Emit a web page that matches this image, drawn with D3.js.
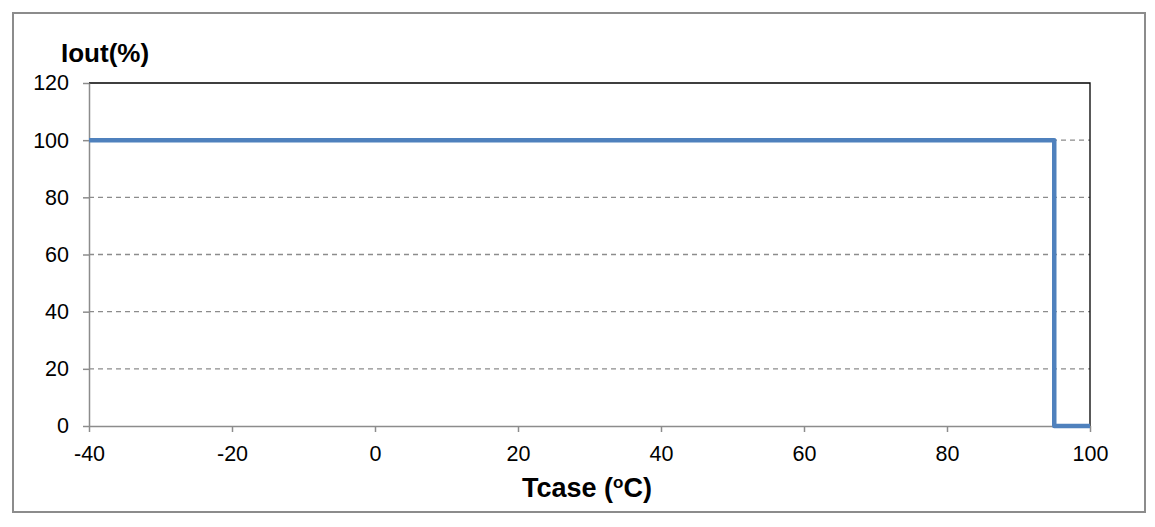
<!DOCTYPE html>
<html><head><meta charset="utf-8">
<script src="https://cdn.jsdelivr.net/npm/d3@7"></script>
<style>html,body{margin:0;padding:0;background:#fff;}</style>
</head><body>
<svg id="c" width="1155" height="527"></svg>
<script>
const xValues = [-40, 95, 95, 100];
const yValues = [100, 100, 0, 0];
const xTicks = [-40, -20, 0, 20, 40, 60, 80, 100];
const yTicks = [0, 20, 40, 60, 80, 100, 120];
const yTitle = "Iout(%)";
const xTitleMain = "Tcase (";
const xTitleSup = "o";
const xTitleEnd = "C)";

const svg = d3.select("#c");
const W = 1155, H = 527;
const m = {left: 89, right: 1090, top: 83, bottom: 426};
const x = d3.scaleLinear().domain([-40, 100]).range([m.left, m.right]);
const y = d3.scaleLinear().domain([0, 120]).range([m.bottom, m.top]);
const font = "'Liberation Sans', Arial, sans-serif";

svg.append("rect").attr("x", 0).attr("y", 0).attr("width", W).attr("height", H).attr("fill", "#fff");
svg.append("rect").attr("x", 13).attr("y", 13).attr("width", 1132).attr("height", 499)
  .attr("fill", "none").attr("stroke", "#8c8c8c").attr("stroke-width", 2);

// gridlines
svg.append("g").selectAll("line").data(yTicks.filter(t => t > 0 && t < 120)).join("line")
  .attr("x1", m.left).attr("x2", m.right)
  .attr("y1", d => y(d)).attr("y2", d => y(d))
  .attr("stroke", "#8c8c8c").attr("stroke-width", 1.3).attr("stroke-dasharray", "5,4");

// top & right border (black)
svg.append("path")
  .attr("d", `M${x(-40)},${y(120)}H${x(100)}V${y(0)}`)
  .attr("fill", "none").attr("stroke", "#000").attr("stroke-width", 1.3);

// axes
const fmt = d => String(d);
const yAxis = svg.append("g").attr("transform", `translate(${m.left},0)`)
  .call(d3.axisLeft(y).tickValues(yTicks).tickFormat(fmt).tickSize(6).tickPadding(14).tickSizeOuter(0));
const xAxis = svg.append("g").attr("transform", `translate(0,${m.bottom})`)
  .call(d3.axisBottom(x).tickValues(xTicks).tickFormat(fmt).tickSize(6).tickPadding(14).tickSizeOuter(0));
[yAxis, xAxis].forEach(a => {
  a.select(".domain").attr("stroke", "#8c8c8c").attr("stroke-width", 1.5);
  a.selectAll(".tick line").attr("stroke", "#8c8c8c").attr("stroke-width", 1.5);
  a.selectAll(".tick text").attr("fill", "#000").style("font-family", font)
    .style("font-size", "21.5px");
});

// data line
const line = d3.line().x(d => x(d[0])).y(d => y(d[1]));
svg.append("path").datum(xValues.map((v, i) => [v, yValues[i]]))
  .attr("d", line).attr("fill", "none").attr("stroke", "#4f81bd")
  .attr("stroke-width", 4.5).attr("stroke-linejoin", "round");

// titles
svg.append("text").attr("x", 61).attr("y", 62).text(yTitle)
  .style("font-family", font).style("font-size", "26px").style("font-weight", "bold");
const xt = svg.append("text").attr("x", 587).attr("y", 497).attr("text-anchor", "middle")
  .style("font-family", font).style("font-size", "27px").style("font-weight", "bold");
xt.append("tspan").text(xTitleMain);
xt.append("tspan").text(xTitleSup).attr("dy", "-9").style("font-size", "17px");
xt.append("tspan").text(xTitleEnd).attr("dy", "9");
</script>
</body></html>
